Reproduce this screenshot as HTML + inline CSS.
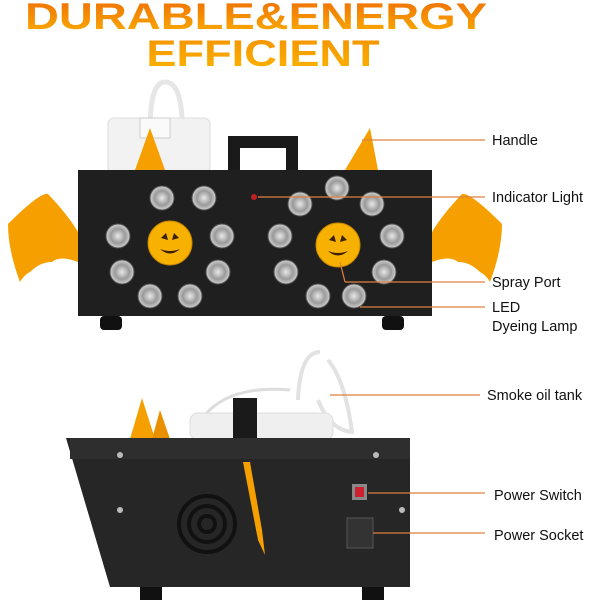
<!DOCTYPE html>
<html><head><meta charset="utf-8"><style>
html,body{margin:0;padding:0;background:#fff;width:600px;height:600px;overflow:hidden}
</style></head><body>
<svg width="600" height="600" viewBox="0 0 600 600" xmlns="http://www.w3.org/2000/svg">
<defs>
<linearGradient id="tg" x1="0" y1="0" x2="0" y2="1"><stop offset="0" stop-color="#ee6a05"/><stop offset="1" stop-color="#fbb000"/></linearGradient>
<linearGradient id="tg2" x1="0" y1="0" x2="0" y2="1"><stop offset="0" stop-color="#f39000"/><stop offset="1" stop-color="#fcb500"/></linearGradient>
<radialGradient id="led"><stop offset="0" stop-color="#e8e8e8"/><stop offset="0.6" stop-color="#9a9a9a"/><stop offset="1" stop-color="#d0d0d0"/></radialGradient>
</defs>
<g font-family="Liberation Sans, sans-serif" font-weight="bold">
<text x="0" y="29" font-size="37" fill="url(#tg)" transform="translate(256,0) scale(1.27,1)" text-anchor="middle">DURABLE&amp;ENERGY</text>
<text x="0" y="66" font-size="37" fill="url(#tg2)" transform="translate(263,0) scale(1.22,1)" text-anchor="middle">EFFICIENT</text>
</g>
<!-- top machine -->
<path d="M150 130 Q150 82 165 82 Q180 82 182 118" fill="none" stroke="#e6e6e6" stroke-width="5"/>
<rect x="108" y="118" width="102" height="55" rx="6" fill="#f2f2f2" stroke="#ddd"/>
<rect x="140" y="118" width="30" height="20" fill="#fafafa" stroke="#ccc"/>
<polygon points="135,170 150,128 165,170" fill="#f5a000"/>
<polygon points="345,170 370,128 378,170" fill="#f5a000"/>
<path d="M228 170 L228 136 L298 136 L298 170 L286 170 L286 148 L240 148 L240 170 Z" fill="#1a1a1a"/>
<rect x="78" y="170" width="354" height="146" fill="#1f1f1f"/>
<rect x="100" y="316" width="22" height="14" rx="4" fill="#111"/>
<rect x="382" y="316" width="22" height="14" rx="4" fill="#111"/>
<path d="M8 224 Q40 192 48 194 Q68 215 78 232 L78 262 Q60 255 52 262 Q40 262 30 272 Q24 275 20 282 Q8 250 8 224Z" fill="#f5a000"/>
<path d="M502 224 Q470 192 462 194 Q442 215 432 232 L432 262 Q450 255 458 262 Q470 262 480 272 Q486 275 490 282 Q502 250 502 224Z" fill="#f5a000"/>
<g fill="url(#led)" stroke="#555" stroke-width="1">
<circle cx="162" cy="198" r="12"/><circle cx="204" cy="198" r="12"/>
<circle cx="118" cy="236" r="12"/><circle cx="222" cy="236" r="12"/>
<circle cx="122" cy="272" r="12"/><circle cx="218" cy="272" r="12"/>
<circle cx="150" cy="296" r="12"/><circle cx="190" cy="296" r="12"/>
<circle cx="337" cy="188" r="12"/><circle cx="300" cy="204" r="12"/><circle cx="372" cy="204" r="12"/>
<circle cx="280" cy="236" r="12"/><circle cx="392" cy="236" r="12"/>
<circle cx="286" cy="272" r="12"/><circle cx="384" cy="272" r="12"/>
<circle cx="318" cy="296" r="12"/><circle cx="354" cy="296" r="12"/>
</g>
<circle cx="170" cy="243" r="22" fill="#f7b100" stroke="#c88600"/>
<circle cx="338" cy="245" r="22" fill="#f7b100" stroke="#c88600"/>
<g fill="#3a2000"><polygon points="161,238 166,233 168,240"/><polygon points="179,238 174,233 172,240"/><path d="M160 249 Q170 258 180 249 Q170 253 160 249Z"/>
<polygon points="329,240 334,235 336,242"/><polygon points="347,240 342,235 340,242"/><path d="M328 251 Q338 260 348 251 Q338 255 328 251Z"/></g>
<circle cx="254" cy="197" r="3" fill="#c02020"/>
<!-- bottom machine -->
<path d="M320 352 Q300 352 298 400 M318 400 Q330 430 352 432 Q345 380 328 360" fill="none" stroke="#e2e2e2" stroke-width="4"/>
<path d="M205 415 Q230 385 290 390" fill="none" stroke="#ddd" stroke-width="3"/>
<rect x="190" y="413" width="143" height="27" rx="8" fill="#efefef" stroke="#ddd"/>
<rect x="233" y="398" width="24" height="42" fill="#1a1a1a"/>
<polygon points="130,439 142,398 155,439" fill="#f5a000"/>
<polygon points="152,439 160,410 170,439" fill="#e89000"/>
<polygon points="66,438 410,438 410,587 110,587" fill="#262626"/>
<rect x="70" y="438" width="340" height="21" fill="#2e2e2e"/>
<rect x="140" y="587" width="22" height="13" fill="#111"/><rect x="362" y="587" width="22" height="13" fill="#111"/>
<g fill="#bbb"><circle cx="120" cy="455" r="3"/><circle cx="376" cy="455" r="3"/><circle cx="120" cy="510" r="3"/><circle cx="402" cy="510" r="3"/></g>
<g fill="none" stroke="#111" stroke-width="4"><circle cx="207" cy="524" r="28"/><circle cx="207" cy="524" r="18"/><circle cx="207" cy="524" r="8"/></g>
<path d="M243 462 L258 540 L265 555 L262 530 L250 462 Z" fill="#f5a000"/>
<rect x="352" y="484" width="15" height="16" fill="#888"/><rect x="355" y="487" width="9" height="10" fill="#d02030"/>
<rect x="347" y="518" width="26" height="30" fill="#333" stroke="#555"/>
<!-- leader lines -->
<g stroke="#e08040" stroke-width="1.2">
<line x1="362" y1="140" x2="485" y2="140"/>
<line x1="258" y1="197" x2="485" y2="197"/>
<line x1="340" y1="262" x2="345" y2="282"/><line x1="345" y1="282" x2="485" y2="282"/>
<line x1="360" y1="307" x2="485" y2="307"/>
<line x1="330" y1="395" x2="480" y2="395"/>
<line x1="368" y1="493" x2="485" y2="493"/>
<line x1="373" y1="533" x2="485" y2="533"/>
</g>
<g font-family="Liberation Sans, sans-serif" font-size="14.5" fill="#111">
<text x="492" y="145">Handle</text>
<text x="492" y="202">Indicator Light</text>
<text x="492" y="287">Spray Port</text>
<text x="492" y="312">LED</text>
<text x="492" y="331">Dyeing Lamp</text>
<text x="487" y="400">Smoke oil tank</text>
<text x="494" y="500">Power Switch</text>
<text x="494" y="540">Power Socket</text>
</g>
</svg>
</body></html>
